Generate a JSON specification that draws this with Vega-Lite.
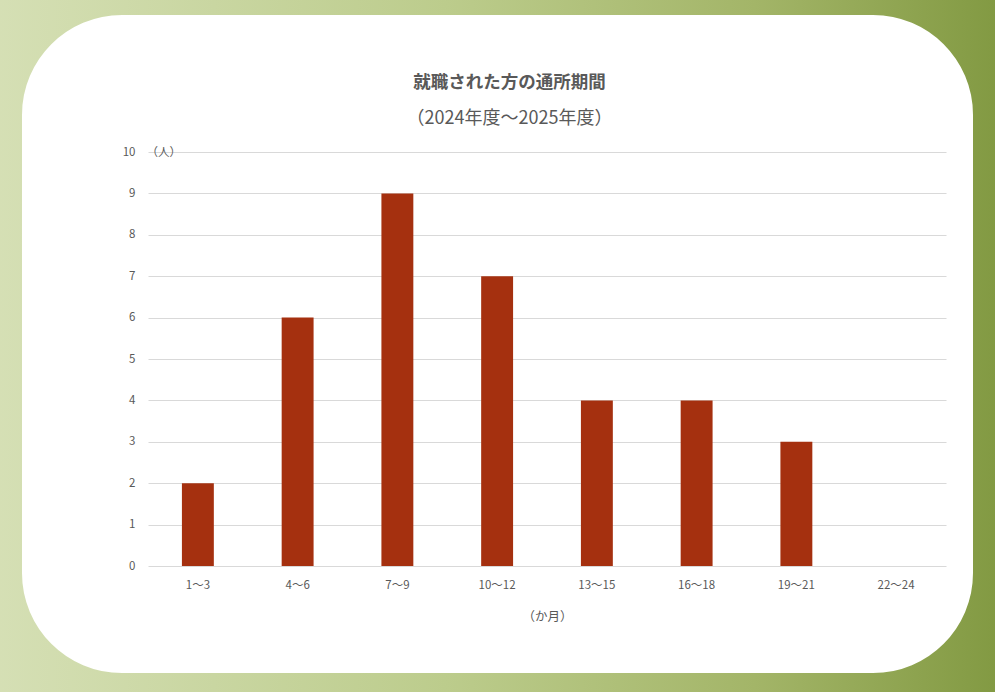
{
  "$schema": "https://vega.github.io/schema/vega-lite/v6.json",
  "width": 1031,
  "height": 738,
  "autosize": {"type": "none"},
  "padding": {"left": -18, "top": -25, "right": -18, "bottom": -21},
  "background": "#b5c684",
  "title": {
    "text": "就職された方の通所期間",
    "subtitle": "（2024年度～2025年度）",
    "frame": "group",
    "anchor": "middle",
    "orient": "top",
    "offset": -153,
    "dx": 12,
    "font": "Noto Sans CJK JP",
    "fontSize": 17.5,
    "fontWeight": "bold",
    "color": "#595959",
    "subtitleFont": "Noto Sans CJK JP",
    "subtitleFontSize": 18,
    "subtitleFontWeight": "normal",
    "subtitleColor": "#595959",
    "subtitlePadding": 19
  },
  "data": {
    "values": [
      {"period": "1〜3", "count": 2},
      {"period": "4〜6", "count": 6},
      {"period": "7〜9", "count": 9},
      {"period": "10〜12", "count": 7},
      {"period": "13〜15", "count": 4},
      {"period": "16〜18", "count": 4},
      {"period": "19〜21", "count": 3},
      {"period": "22〜24", "count": 0}
    ]
  },
  "mark": {"type": "bar", "color": "#a5300f"},
  "encoding": {
    "x": {
      "field": "period",
      "type": "nominal",
      "sort": null,
      "scale": {"range": [166, 964], "paddingInner": 0.68, "paddingOuter": 0.34},
      "axis": {
        "orient": "bottom",
        "offset": -147,
        "domain": false,
        "ticks": false,
        "grid": false,
        "labelAngle": 0,
        "labelFont": "Noto Sans CJK JP",
        "labelFontSize": 11.5,
        "labelColor": "#595959",
        "labelPadding": 13,
        "title": "（か月）",
        "titleFont": "Noto Sans CJK JP",
        "titleFontSize": 12.5,
        "titleFontWeight": "normal",
        "titleColor": "#595959",
        "titlePadding": 20
      }
    },
    "y": {
      "field": "count",
      "type": "quantitative",
      "scale": {"domain": [0, 10], "nice": false, "range": [591, 177]},
      "axis": {
        "orient": "left",
        "offset": -166,
        "values": [0, 1, 2, 3, 4, 5, 6, 7, 8, 9, 10],
        "domain": false,
        "ticks": false,
        "grid": true,
        "gridColor": "#d9d9d9",
        "gridWidth": 1,
        "labelFont": "Noto Sans CJK JP",
        "labelFontSize": 11.5,
        "labelColor": "#595959",
        "labelPadding": 13,
        "title": "（人）",
        "titleAngle": 0,
        "titleAlign": "left",
        "titleBaseline": "middle",
        "titleX": -2,
        "titleY": 177,
        "titleFont": "Noto Sans CJK JP",
        "titleFontSize": 11.5,
        "titleFontWeight": "normal",
        "titleColor": "#595959"
      }
    }
  },
  "config": {
    "view": {
      "fill": "white",
      "cornerRadius": 140,
      "strokeWidth": 80,
      "stroke": {
        "gradient": "linear",
        "x1": 0, "y1": 0, "x2": 1, "y2": 0,
        "stops": [
          {"offset": 0, "color": "#d6e0b6"},
          {"offset": 0.45, "color": "#bccc8c"},
          {"offset": 0.75, "color": "#a3b568"},
          {"offset": 1, "color": "#809840"}
        ]
      }
    }
  }
}
